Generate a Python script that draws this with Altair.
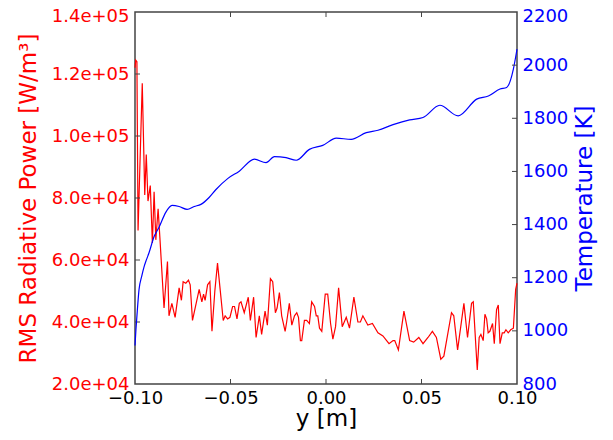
import altair as alt
import pandas as pd

# RMS radiative power (red, left axis)
red_x = [-0.1000, -0.0996, -0.0990, -0.0984, -0.0962, -0.0949, -0.0941, -0.0932, -0.0920, -0.0909,
         -0.0900, -0.0891, -0.0879, -0.0869, -0.0848, -0.0830, -0.0822, -0.0807, -0.0790, -0.0769,
         -0.0757, -0.0748, -0.0734, -0.0720, -0.0711, -0.0699, -0.0664, -0.0650, -0.0641, -0.0633,
         -0.0620, -0.0608, -0.0597, -0.0582, -0.0568, -0.0555, -0.0538, -0.0528, -0.0515, -0.0503,
         -0.0489, -0.0479, -0.0466, -0.0454, -0.0445, -0.0428, -0.0407, -0.0396, -0.0379, -0.0366,
         -0.0349, -0.0337, -0.0319, -0.0307, -0.0291, -0.0279, -0.0265, -0.0256, -0.0244, -0.0232,
         -0.0214, -0.0206, -0.0192, -0.0179, -0.0165, -0.0153, -0.0144, -0.0134, -0.0127, -0.0113,
         -0.0101, -0.0087, -0.0075, -0.0060, -0.0051, -0.0043, -0.0034, -0.0022, -0.0004, 0.0009,
         0.0024, 0.0036, 0.0050, 0.0066, 0.0085, 0.0106, 0.0123, 0.0146, 0.0167, 0.0180,
         0.0193, 0.0219, 0.0243, 0.0272, 0.0298, 0.0330, 0.0351, 0.0360, 0.0379, 0.0408,
         0.0438, 0.0459, 0.0486, 0.0508, 0.0534, 0.0557, 0.0578, 0.0601, 0.0617, 0.0657,
         0.0669, 0.0689, 0.0722, 0.0741, 0.0762, 0.0771, 0.0792, 0.0802, 0.0811, 0.0823,
         0.0832, 0.0841, 0.0849, 0.0858, 0.0872, 0.0881, 0.0893, 0.0902, 0.0911, 0.0923,
         0.0933, 0.0942, 0.0954, 0.0967, 0.0981, 0.0993, 0.1000]
red_v = [12.2e4, 12.45e4, 12.4e4, 6.95e4, 11.7e4, 8.1e4, 9.4e4, 7.9e4, 8.4e4, 6.55e4,
         8.2e4, 6.65e4, 7.65e4, 6.65e4, 4.45e4, 5.95e4, 4.2e4, 4.6e4, 4.15e4, 5.1e4,
         4.7e4, 5.3e4, 5.25e4, 5.35e4, 5.2e4, 4.05e4, 5.05e4, 4.65e4, 4.9e4, 4.7e4,
         5.2e4, 5.3e4, 3.7e4, 5.0e4, 5.9e4, 5.1e4, 4.05e4, 4.2e4, 4.1e4, 4.15e4,
         4.5e4, 4.5e4, 4.1e4, 4.6e4, 4.65e4, 4.3e4, 4.8e4, 4.05e4, 4.8e4, 3.5e4,
         4.2e4, 3.6e4, 4.35e4, 3.9e4, 5.4e4, 5.3e4, 4.3e4, 4.45e4, 4.95e4, 4.2e4,
         3.7e4, 4.0e4, 4.6e4, 3.9e4, 4.2e4, 4.3e4, 4.15e4, 3.4e4, 3.4e4, 4.05e4,
         4.05e4, 3.95e4, 4.65e4, 4.5e4, 4.2e4, 4.2e4, 3.8e4, 3.7e4, 4.9e4, 4.9e4,
         3.95e4, 3.45e4, 3.85e4, 5.1e4, 3.85e4, 4.15e4, 3.8e4, 4.8e4, 4.0e4, 4.0e4,
         4.2e4, 3.9e4, 3.95e4, 3.65e4, 3.55e4, 3.3e4, 3.4e4, 3.4e4, 3.1e4, 4.35e4,
         3.4e4, 3.35e4, 3.5e4, 3.3e4, 3.5e4, 3.7e4, 3.5e4, 2.8e4, 2.9e4, 4.3e4,
         4.2e4, 3.1e4, 4.6e4, 3.5e4, 4.6e4, 4.65e4, 2.45e4, 3.5e4, 3.6e4, 3.4e4,
         4.25e4, 4.1e4, 3.65e4, 3.7e4, 3.95e4, 3.3e4, 4.4e4, 4.55e4, 3.3e4, 3.65e4,
         3.65e4, 3.75e4, 3.65e4, 3.75e4, 3.8e4, 5.05e4, 5.25e4]

# Temperature (blue, right axis)
blue_x = [-0.1000, -0.0995, -0.0988, -0.0979, -0.0965, -0.0953, -0.0940, -0.0927, -0.0900, -0.0874,
          -0.0839, -0.0806, -0.0769, -0.0727, -0.0690, -0.0655, -0.0612, -0.0576, -0.0515, -0.0454,
          -0.0375, -0.0314, -0.0270, -0.0209, -0.0156, -0.0087, -0.0017, 0.0054, 0.0132, 0.0211,
          0.0272, 0.0351, 0.0438, 0.0508, 0.0596, 0.0692, 0.0789, 0.0850, 0.0911, 0.0946,
          0.0981, 0.1000]
blue_v = [945, 1005, 1075, 1155, 1205, 1240, 1268, 1293, 1355, 1390,
          1446, 1472, 1468, 1457, 1468, 1476, 1502, 1532, 1573, 1601,
          1646, 1633, 1656, 1652, 1642, 1683, 1698, 1725, 1721, 1746,
          1755, 1776, 1794, 1803, 1849, 1809, 1872, 1884, 1910, 1916,
          1985, 2060]

x_ticks = [-0.10, -0.05, 0.00, 0.05, 0.10]
left_ticks = [2e4, 4e4, 6e4, 8e4, 10e4, 12e4, 14e4]
right_ticks = [800, 1000, 1200, 1400, 1600, 1800, 2000, 2200]

W, H = 382, 372
FONT = "DejaVu Sans"
FRAME = "#444444"

red_df = pd.DataFrame({"x": red_x, "v": red_v})
blue_df = pd.DataFrame({"x": blue_x, "v": blue_v})
xt_df = pd.DataFrame({"t": x_ticks[1:-1]})
lt_df = pd.DataFrame({"t": left_ticks[1:-1]})
rt_df = pd.DataFrame({"t": right_ticks[1:-1]})

x_scale = alt.Scale(domain=[-0.1, 0.1], nice=False, zero=False)
yl_scale = alt.Scale(domain=[2e4, 1.4e5], nice=False, zero=False)
yr_scale = alt.Scale(domain=[800, 2200], nice=False, zero=False)

x_axis = alt.Axis(values=x_ticks, format=".2f", title="y [m]", grid=False, ticks=False,
                  domain=False, labelFontSize=18, labelColor="black", labelPadding=5,
                  titleFontSize=23, titleColor="black", titleFontWeight="normal",
                  titlePadding=0, labelFont=FONT, titleFont=FONT, labelFlush=False)

red_line = alt.Chart(red_df).mark_line(color="#ff0000", strokeWidth=1.2).encode(
    x=alt.X("x:Q", scale=x_scale, axis=x_axis),
    y=alt.Y("v:Q", scale=yl_scale, axis=alt.Axis(
        values=left_ticks, labelExpr="replace(format(datum.value, '.1e'), 'e+', 'e+0')",
        title="RMS Radiative Power [W/m³]", grid=False, ticks=False, domain=False,
        labelFontSize=18, labelColor="#ff0000", labelPadding=6, labelFont=FONT,
        titleFont=FONT, titleFontSize=23, titleColor="#ff0000", titleFontWeight="normal",
        titlePadding=11, labelFlush=False,
        labelOffset={"condition": {"test": "datum.value >= 140000", "value": 4}, "value": 0})),
)

left_tick_marks = alt.Chart(lt_df).mark_rule(color=FRAME, strokeWidth=1).encode(
    y=alt.Y("t:Q", scale=yl_scale), x=alt.value(0), x2=alt.value(5))
xb_ticks = alt.Chart(xt_df).mark_rule(color=FRAME, strokeWidth=1).encode(
    x=alt.X("t:Q", scale=x_scale), y=alt.value(H - 5), y2=alt.value(H))
xt_ticks = alt.Chart(xt_df).mark_rule(color=FRAME, strokeWidth=1).encode(
    x=alt.X("t:Q", scale=x_scale), y=alt.value(0), y2=alt.value(5))

blue_line = alt.Chart(blue_df).mark_line(color="#0000ff", strokeWidth=1.2, interpolate="monotone").encode(
    x=alt.X("x:Q", scale=x_scale),
    y=alt.Y("v:Q", scale=yr_scale, axis=alt.Axis(
        orient="right", values=right_ticks, format="d", title="Temperature [K]",
        grid=False, ticks=False, domain=False, labelFontSize=18, labelColor="#0000ff",
        labelPadding=5, labelFont=FONT, titleFont=FONT, titleFontSize=23,
        titleColor="#0000ff", titleFontWeight="normal", titleAngle=270,
        titleBaseline="top", titlePadding=6, labelFlush=False,
        labelOffset={"condition": {"test": "datum.value >= 2200", "value": 4}, "value": 0})),
)
right_tick_marks = alt.Chart(rt_df).mark_rule(color=FRAME, strokeWidth=1).encode(
    y=alt.Y("t:Q", scale=yr_scale), x=alt.value(W - 5), x2=alt.value(W))

left = alt.layer(red_line, left_tick_marks, xb_ticks, xt_ticks)
right = alt.layer(blue_line, right_tick_marks)

chart = alt.layer(left, right).resolve_scale(y="independent").properties(
    width=W, height=H,
    autosize=alt.AutoSizeParams(type="none"),
    padding={"left": 127, "top": 4, "right": 84, "bottom": 48},
    background="white",
).configure_view(stroke=FRAME, strokeWidth=1.5)

chart.save("out.html", embed_options={"renderer": "svg", "actions": False})
